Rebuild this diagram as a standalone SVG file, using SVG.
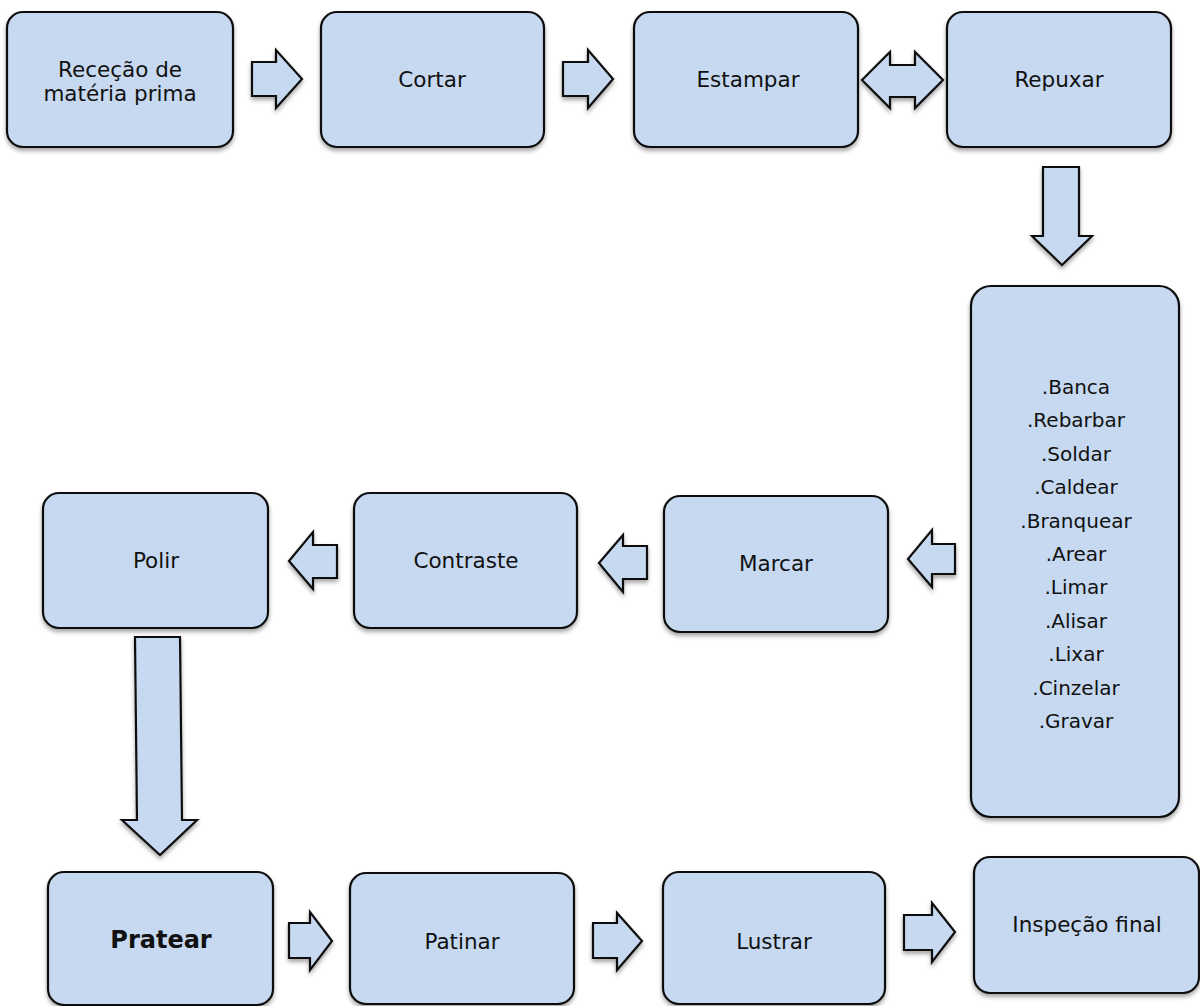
<svg xmlns="http://www.w3.org/2000/svg" width="1200" height="1006" viewBox="0 0 1200 1006">
  <defs>
    <filter id="shadow" x="-10%" y="-10%" width="120%" height="125%">
      <feDropShadow dx="0" dy="3" stdDeviation="2" flood-color="#000" flood-opacity="0.35"/>
    </filter>
    <style>
      .box { fill: #c6d9f0; stroke: #111; stroke-width: 2.2; filter: url(#shadow); }
      .arrow { fill: #c6d9f0; stroke: #111; stroke-width: 2.2; stroke-linejoin: miter; filter: url(#shadow); }
      .lbl { font-family: "DejaVu Sans", "Liberation Sans", sans-serif; font-size: 21.5px; fill: #111; text-anchor: middle; }
      .sub { font-family: "DejaVu Sans", "Liberation Sans", sans-serif; font-size: 20px; fill: #111; text-anchor: middle; }
      .bold { font-weight: bold; font-size: 24px; }
    </style>
  </defs>
  <rect width="1200" height="1006" fill="#ffffff"/>

  <!-- Process steps -->
  <g id="rececao">
    <rect class="box" x="7" y="12" width="226" height="135" rx="16"/>
    <text class="lbl" x="120" y="77">Receção de</text>
    <text class="lbl" x="120" y="101">matéria prima</text>
  </g>
  <g id="cortar">
    <rect class="box" x="321" y="12" width="223" height="135" rx="16"/>
    <text class="lbl" x="432" y="87">Cortar</text>
  </g>
  <g id="estampar">
    <rect class="box" x="634" y="12" width="224" height="135" rx="16"/>
    <text class="lbl" x="748" y="87">Estampar</text>
  </g>
  <g id="repuxar">
    <rect class="box" x="947" y="12" width="224" height="135" rx="16"/>
    <text class="lbl" x="1059" y="87">Repuxar</text>
  </g>
  <g id="banca">
    <rect class="box" x="971" y="286" width="208" height="531" rx="20"/>
    <text class="sub" x="1076" y="394">.Banca</text>
    <text class="sub" x="1076" y="427">.Rebarbar</text>
    <text class="sub" x="1076" y="461">.Soldar</text>
    <text class="sub" x="1076" y="494">.Caldear</text>
    <text class="sub" x="1076" y="528">.Branquear</text>
    <text class="sub" x="1076" y="561">.Arear</text>
    <text class="sub" x="1076" y="594">.Limar</text>
    <text class="sub" x="1076" y="628">.Alisar</text>
    <text class="sub" x="1076" y="661">.Lixar</text>
    <text class="sub" x="1076" y="695">.Cinzelar</text>
    <text class="sub" x="1076" y="728">.Gravar</text>
  </g>
  <g id="marcar">
    <rect class="box" x="664" y="496" width="224" height="136" rx="16"/>
    <text class="lbl" x="776" y="571">Marcar</text>
  </g>
  <g id="contraste">
    <rect class="box" x="354" y="493" width="223" height="135" rx="16"/>
    <text class="lbl" x="466" y="568">Contraste</text>
  </g>
  <g id="polir">
    <rect class="box" x="43" y="493" width="225" height="135" rx="16"/>
    <text class="lbl" x="156" y="568">Polir</text>
  </g>
  <g id="pratear">
    <rect class="box" x="48" y="872" width="225" height="133" rx="16"/>
    <text class="lbl bold" x="161" y="948">Pratear</text>
  </g>
  <g id="patinar">
    <rect class="box" x="350" y="873" width="224" height="131" rx="16"/>
    <text class="lbl" x="462" y="949">Patinar</text>
  </g>
  <g id="lustrar">
    <rect class="box" x="663" y="872" width="222" height="132" rx="16"/>
    <text class="lbl" x="774" y="949">Lustrar</text>
  </g>
  <g id="inspecao">
    <rect class="box" x="974" y="857" width="225" height="136" rx="16"/>
    <text class="lbl" x="1087" y="932">Inspeção final</text>
  </g>

  <!-- Block arrows between steps -->
  <g id="connectors">
    <polygon class="arrow" points="252,62 276,62 276,50 302,79 276,108 276,96 252,96"/>
    <polygon class="arrow" points="563,62 588,62 588,50 613,79 588,108 588,96 563,96"/>
    <polygon class="arrow" points="862,80 890,52 890,65 915,65 915,52 943,80 915,108 915,97 890,97 890,108"/>
    <polygon class="arrow" points="1043,167 1079,167 1079,236 1092,236 1062,265 1032,236 1043,236"/>
    <polygon class="arrow" points="955,544 932,544 932,530 908,559 932,587 932,574 955,574"/>
    <polygon class="arrow" points="647,546 623,546 623,535 599,563 623,592 623,579 647,579"/>
    <polygon class="arrow" points="337,545 313,545 313,532 289,561 313,589 313,578 337,578"/>
    <polygon class="arrow" points="135,637 180,637 182,820 197,820 160,855 122,820 137,820"/>
    <polygon class="arrow" points="289,923 310,923 310,912 332,941 310,970 310,958 289,958"/>
    <polygon class="arrow" points="593,923 617,923 617,913 642,941 617,970 617,958 593,958"/>
    <polygon class="arrow" points="904,915 932,915 932,903 955,932 932,962 932,950 904,950"/>
  </g>
</svg>
